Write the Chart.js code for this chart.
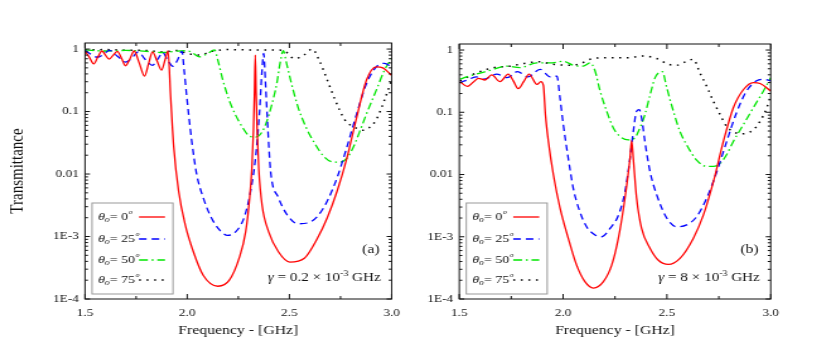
<!DOCTYPE html>
<html>
<head>
<meta charset="utf-8">
<script src="https://cdn.jsdelivr.net/npm/chart.js@4"></script>
<style>
  html, body { margin: 0; padding: 0; background: #fff; }
  #wrap { position: relative; width: 817px; height: 361px; overflow: hidden; }
  canvas { position: absolute; top: 0; }
</style>
</head>
<body>
<div id="wrap">
  <canvas id="chartA" width="325" height="361" style="left:0px;width:410px;height:361px"></canvas>
  <canvas id="chartB" width="323" height="361" style="left:410px;width:407px;height:361px"></canvas>
</div>
<script>
// ---- data (frequency in GHz, transmittance) ----
const angles = [0, 25, 50, 75];
const xTicks = [1.5, 2.0, 2.5, 3.0];
const yTicks = [1e-4, 1e-3, 0.01, 0.1, 1];
const yTickLabels = ["1E-4", "1E-3", "0.01", "0.1", "1"];

// panel (a), gamma = 0.2e-3 GHz
const redA_f = [1.500, 1.520, 1.543, 1.563, 1.583, 1.600, 1.618, 1.638, 1.658, 1.678, 1.698, 1.720, 1.740, 1.765, 1.791, 1.812, 1.830, 1.852, 1.874, 1.892, 1.906,
  1.919, 1.934, 1.958, 1.990, 2.030, 2.078, 2.150, 2.206, 2.254, 2.286, 2.305, 2.316, 2.324, 2.329, 2.333, 2.337, 2.342, 2.350, 2.366, 2.398, 2.446, 2.502,
  2.573, 2.637, 2.685, 2.733, 2.781, 2.829, 2.877, 2.925, 2.957, 3.000];
const redA_T = [0.93, 0.75, 0.58, 0.75, 0.93, 0.80, 0.69, 0.80, 0.92, 0.72, 0.54, 0.70, 0.93, 0.60, 0.37, 0.60, 0.90, 0.65, 0.46, 0.68, 0.93,
  0.17, 0.027, 0.0053, 0.00155, 5.7e-4, 2.4e-4, 1.6e-4, 2.0e-4, 4.5e-4, 1.2e-3, 4.0e-3, 0.012, 0.05, 0.2, 0.8, 0.2, 0.05, 0.012, 3.2e-3, 1.2e-3, 5.7e-4, 3.9e-4,
  4.5e-4, 9.4e-4, 2.0e-3, 5.3e-3, 0.018, 0.081, 0.32, 0.52, 0.50, 0.38];

const blueA_f = [1.500, 1.530, 1.560, 1.590, 1.620, 1.660, 1.700, 1.730, 1.760, 1.795, 1.830, 1.855, 1.880, 1.905, 1.930, 1.952, 1.974,
  1.985, 1.998, 2.022, 2.046, 2.078, 2.118, 2.158, 2.198, 2.238, 2.278, 2.310, 2.334, 2.353, 2.366, 2.374, 2.382, 2.395, 2.408, 2.446, 2.494,
  2.542, 2.589, 2.637, 2.685, 2.733, 2.781, 2.829, 2.877, 2.925, 2.965, 3.000];
const blueA_T = [0.95, 0.82, 0.74, 0.82, 0.95, 0.76, 0.62, 0.72, 0.90, 0.68, 0.55, 0.68, 0.88, 0.66, 0.53, 0.66, 0.92,
  0.45, 0.17, 0.034, 0.010, 4.2e-3, 2.0e-3, 1.28e-3, 1.04e-3, 1.2e-3, 2.0e-3, 5.3e-3, 0.018, 0.092, 0.46, 0.85, 0.32, 0.049, 0.011, 4.2e-3, 2.1e-3,
  1.6e-3, 1.65e-3, 2.1e-3, 3.7e-3, 8.7e-3, 0.027, 0.092, 0.28, 0.52, 0.59, 0.52];

const greenA_f = [1.500, 1.600, 1.700, 1.800, 1.880, 1.950, 2.000, 2.030, 2.060, 2.100, 2.134, 2.150, 2.174, 2.206, 2.238, 2.270, 2.302, 2.334,
  2.366, 2.390, 2.414, 2.438, 2.454, 2.470, 2.486, 2.510, 2.542, 2.581, 2.621, 2.669, 2.717, 2.749, 2.781, 2.813, 2.845, 2.877, 2.925, 2.965, 3.000];
const greenA_T = [0.97, 0.93, 0.95, 0.92, 0.88, 0.93, 0.94, 0.85, 0.75, 0.85, 0.97, 0.66, 0.32, 0.15, 0.086, 0.056, 0.041, 0.039,
  0.047, 0.071, 0.13, 0.28, 0.59, 0.94, 0.59, 0.28, 0.118, 0.056, 0.032, 0.019, 0.0155, 0.0155, 0.018, 0.027, 0.049, 0.092, 0.22, 0.46, 0.71];

const blackA_f = [1.500, 1.600, 1.700, 1.800, 1.880, 1.950, 2.000, 2.060, 2.120, 2.200, 2.300, 2.400, 2.470, 2.526, 2.570, 2.612,
  2.645, 2.685, 2.725, 2.772, 2.828, 2.860, 2.890, 2.924, 2.964, 3.000];
const blackA_T = [0.97, 0.98, 0.96, 0.95, 0.90, 0.95, 0.85, 0.80, 0.92, 0.98, 0.97, 0.97, 0.95, 0.70, 0.80, 1.00,
  0.67, 0.32, 0.15, 0.073, 0.054, 0.050, 0.055, 0.073, 0.15, 0.32];

// panel (b), gamma = 8e-3 GHz
const redB_f = [1.503, 1.539, 1.565, 1.592, 1.624, 1.656, 1.696, 1.736, 1.760, 1.784, 1.810, 1.836, 1.874, 1.893, 1.905,
  1.915, 1.929, 1.953, 1.985, 2.025, 2.065, 2.105, 2.146, 2.194, 2.234, 2.266, 2.298, 2.322, 2.330, 2.338, 2.354, 2.378, 2.419, 2.459, 2.507,
  2.563, 2.627, 2.675, 2.724, 2.772, 2.820, 2.868, 2.916, 2.949, 3.000];
const redB_T = [0.31, 0.26, 0.30, 0.35, 0.33, 0.40, 0.31, 0.41, 0.32, 0.24, 0.31, 0.41, 0.28, 0.31, 0.27,
  0.09, 0.034, 0.010, 2.9e-3, 9.4e-4, 3.5e-4, 1.9e-4, 1.5e-4, 1.9e-4, 3.5e-4, 9.4e-4, 4.2e-3, 0.018, 0.035, 0.018, 4.2e-3, 1.36e-3, 6.5e-4, 4.2e-4, 3.6e-4,
  4.5e-4, 9.4e-4, 2.2e-3, 7.7e-3, 0.034, 0.118, 0.23, 0.30, 0.29, 0.22];

const blueB_f = [1.500, 1.540, 1.580, 1.620, 1.680, 1.730, 1.780, 1.830, 1.889, 1.938, 1.970,
  1.985, 2.001, 2.025, 2.049, 2.081, 2.113, 2.154, 2.186, 2.226, 2.266, 2.298, 2.322, 2.338, 2.354, 2.367, 2.378, 2.394, 2.419, 2.451, 2.499,
  2.547, 2.595, 2.643, 2.692, 2.740, 2.788, 2.836, 2.884, 2.932, 2.965, 3.000];
const blueB_T = [0.30, 0.33, 0.37, 0.34, 0.41, 0.36, 0.45, 0.37, 0.49, 0.37, 0.38,
  0.17, 0.063, 0.018, 6.0e-3, 2.5e-3, 1.45e-3, 1.07e-3, 1.0e-3, 1.36e-3, 2.2e-3, 5.3e-3, 0.018, 0.049, 0.104, 0.11, 0.081, 0.034, 0.011, 4.7e-3, 2.0e-3,
  1.45e-3, 1.55e-3, 2.1e-3, 4.2e-3, 0.011, 0.034, 0.10, 0.22, 0.32, 0.34, 0.32];

const greenB_f = [1.503, 1.567, 1.648, 1.728, 1.792, 1.873, 1.937, 2.001, 2.049, 2.097, 2.130, 2.154, 2.178, 2.210, 2.242, 2.274, 2.314, 2.346,
  2.370, 2.394, 2.419, 2.443, 2.478, 2.499, 2.531, 2.563, 2.603, 2.643, 2.692, 2.724, 2.756, 2.788, 2.820, 2.868, 2.916, 2.965, 3.000];
const greenB_T = [0.34, 0.40, 0.47, 0.55, 0.52, 0.62, 0.62, 0.66, 0.57, 0.55, 0.62, 0.46, 0.22, 0.104, 0.056, 0.041, 0.036, 0.039,
  0.056, 0.092, 0.19, 0.36, 0.45, 0.25, 0.104, 0.049, 0.027, 0.017, 0.0135, 0.0135, 0.015, 0.021, 0.034, 0.063, 0.118, 0.22, 0.36];

const blackB_f = [1.503, 1.584, 1.664, 1.744, 1.824, 1.889, 1.937, 2.033, 2.081, 2.130, 2.194, 2.306, 2.386, 2.451, 2.507, 2.547, 2.595, 2.627,
  2.659, 2.692, 2.724, 2.756, 2.788, 2.820, 2.852, 2.884, 2.916, 2.949, 2.981, 3.000];
const blackB_T = [0.32, 0.43, 0.52, 0.55, 0.62, 0.65, 0.60, 0.57, 0.60, 0.71, 0.75, 0.75, 0.80, 0.73, 0.59, 0.57, 0.66, 0.71,
  0.43, 0.26, 0.15, 0.092, 0.059, 0.049, 0.045, 0.046, 0.052, 0.072, 0.118, 0.19];

// ---- drawing ----
const S = 410 / 325;          // the figure is stretched horizontally
const FONT = '"Liberation Serif", "Times New Roman", serif';
const lineStyles = [
  { color: "#ff0000", dash: [], width: 1.3 },
  { color: "#0000ff", dash: [6, 4], width: 1.3 },
  { color: "#00e600", dash: [7, 3, 1.5, 3], width: 1.3 },
  { color: "#000000", dash: [1.5, 4.5], width: 1.5 }
];

function pts(f, t) {
  return f.map((v, i) => ({ x: v, y: t[i] }));
}

function drawRich(ctx, parts, x, y, size) {
  let w = 0;
  for (const p of parts) {
    const s = size * (p.scale || 1);
    ctx.font = (p.italic ? "italic " : "") + s + "px " + FONT;
    w += ctx.measureText(p.t).width + (p.gap || 0);
  }
  return function (align) {
    let cx = align === "right" ? x - w : x;
    for (const p of parts) {
      const s = size * (p.scale || 1);
      ctx.font = (p.italic ? "italic " : "") + s + "px " + FONT;
      cx += p.gap || 0;
      ctx.fillText(p.t, cx, y + (p.dy || 0));
      cx += ctx.measureText(p.t).width;
    }
  };
}

const framePlugin = {
  id: "frame",
  afterDraw(chart) {
    const { ctx, chartArea: a, scales: { x, y } } = chart;
    ctx.save();
    ctx.strokeStyle = "#111";
    ctx.lineWidth = 1;
    ctx.setLineDash([]);
    ctx.strokeRect(a.left, a.top, a.right - a.left, a.bottom - a.top);
    ctx.beginPath();
    for (let v = 1.5; v <= 3.0001; v += 0.25) {
      const px = x.getPixelForValue(v);
      const len = Math.abs(v * 2 - Math.round(v * 2)) < 1e-6 ? 5 : 3;
      ctx.moveTo(px, a.bottom); ctx.lineTo(px, a.bottom - len);
      ctx.moveTo(px, a.top); ctx.lineTo(px, a.top + len);
    }
    for (const d of yTicks) {
      for (let k = 1; k <= 9; k++) {
        const v = d * k;
        if (v > y.max) break;
        const py = y.getPixelForValue(v);
        const len = (k === 1 ? 5 : 3) / S;
        ctx.moveTo(a.left, py); ctx.lineTo(a.left + len, py);
        ctx.moveTo(a.right, py); ctx.lineTo(a.right - len, py);
      }
    }
    ctx.stroke();

    // legend box
    const o = chart.options.plugins.notes;
    const bx = a.left + 7 / S, by = a.bottom - 96;
    ctx.fillStyle = "#fff";
    ctx.fillRect(bx, by, 81 / S, 91);
    ctx.strokeStyle = "#999";
    ctx.strokeRect(bx, by, 81 / S, 91);
    const rows = [82, 60, 39, 19];
    ctx.fillStyle = "#111";
    ctx.textBaseline = "middle";
    angles.forEach((ang, i) => {
      const ry = a.bottom - rows[i];
      drawRich(ctx, [
        { t: "θ", italic: true },
        { t: "o", italic: true, scale: 0.7, dy: 3 },
        { t: "= " + ang },
        { t: "o", italic: true, scale: 0.55, dy: -4.5, gap: 0.6 }
      ], a.left + 13 / S, ry, 11)("left");
      const st = lineStyles[i];
      ctx.strokeStyle = st.color;
      ctx.lineWidth = st.width;
      ctx.setLineDash(st.dash);
      ctx.beginPath();
      ctx.moveTo(a.left + 54 / S, ry);
      ctx.lineTo(a.left + 80 / S, ry);
      ctx.stroke();
      ctx.setLineDash([]);
    });

    // panel tag and damping note
    ctx.fillStyle = "#111";
    ctx.textAlign = "left";
    drawRich(ctx, [{ t: o.tag }], a.right - 12 / S, a.bottom - 49, 12.5)("right");
    drawRich(ctx, [
      { t: "γ", italic: true },
      { t: " = " + o.gamma + " × 10" },
      { t: "-3", scale: 0.65, dy: -4 },
      { t: " GHz" }
    ], a.right - 11 / S, a.bottom - 21, 12)("right");
    ctx.restore();
  }
};

function makeChart(id, series, cfg) {
  const datasets = series.map(([f, t], i) => ({
    label: "θo = " + angles[i] + "°",
    data: pts(f, t),
    borderColor: lineStyles[i].color,
    borderWidth: lineStyles[i].width,
    borderDash: lineStyles[i].dash,
    pointRadius: 0,
    fill: false,
    cubicInterpolationMode: "monotone"
  }));

  return new Chart(document.getElementById(id), {
    type: "line",
    data: { datasets },
    options: {
      responsive: false,
      devicePixelRatio: 1,
      animation: false,
      layout: { padding: { top: cfg.top, right: cfg.right, bottom: 7, left: 0 } },
      plugins: {
        legend: { display: false },
        tooltip: { enabled: false },
        notes: { tag: cfg.tag, gamma: cfg.gamma }
      },
      scales: {
        x: {
          type: "linear",
          min: 1.5,
          max: 3.0,
          grid: { display: false, drawTicks: false },
          border: { display: false },
          afterBuildTicks: s => { s.ticks = xTicks.map(v => ({ value: v })); },
          afterFit: s => { s.height = 55; },
          ticks: {
            autoSkip: false, maxRotation: 0, padding: 8, color: "#111",
            font: { family: FONT, size: 10.5 },
            callback: v => Number(v).toFixed(1)
          },
          title: {
            display: true, text: "Frequency - [GHz]", color: "#111",
            font: { family: FONT, size: 12.5 }, padding: { top: 0, bottom: 15.5 }
          }
        },
        y: {
          type: "logarithmic",
          min: 1e-4,
          max: 1.25,
          grid: { display: false, drawTicks: false },
          border: { display: false },
          afterBuildTicks: s => { s.ticks = yTicks.map(v => ({ value: v })); },
          afterFit: s => { s.width = cfg.axisW; },
          ticks: {
            autoSkip: false, padding: 5, color: "#111",
            font: { family: FONT, size: 10.5 },
            callback: v => {
              const i = yTicks.findIndex(t => Math.abs(Math.log10(t) - Math.log10(v)) < 1e-6);
              return i >= 0 ? yTickLabels[i] : "";
            }
          },
          title: {
            display: cfg.yTitle, text: "Transmittance", color: "#111",
            font: { family: FONT, size: 15 }, padding: { top: 5.5, bottom: 0 }
          }
        }
      }
    },
    plugins: [framePlugin]
  });
}

makeChart("chartA", [[redA_f, redA_T], [blueA_f, blueA_T], [greenA_f, greenA_T], [blackA_f, blackA_T]],
  { top: 43, right: 325 - 399.3 / S, axisW: 85 / S, yTitle: true, tag: "(a)", gamma: "0.2" });
makeChart("chartB", [[redB_f, redB_T], [blueB_f, blueB_T], [greenB_f, greenB_T], [blackB_f, blackB_T]],
  { top: 44, right: 323 - 360.7 * 323 / 407, axisW: 49.3 * 323 / 407, yTitle: false, tag: "(b)", gamma: "8" });
</script>
</body>
</html>
